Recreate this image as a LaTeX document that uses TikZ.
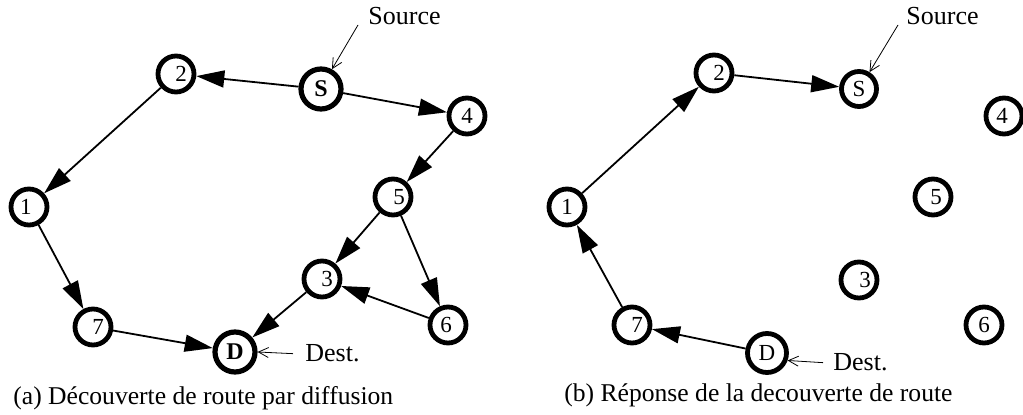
\documentclass[tikz,border=0pt]{standalone}
\usepackage{fontspec}
\setmainfont{Liberation Serif}
\usetikzlibrary{arrows.meta}

\tikzset{
  noeud/.style={draw, circle, line width=2.4pt, minimum size=18pt, inner sep=0pt, font=\fontsize{11.5}{13}\selectfont},
  extreme/.style={minimum size=20pt, line width=2.6pt, font=\fontsize{12}{14}\selectfont\bfseries},
  lien/.style={line width=0.9pt, -{Triangle[length=14pt,width=8.5pt]}},
  renvoi/.style={line width=0.4pt, -{Straight Barb[length=5pt,width=5pt]}},
  legende/.style={font=\fontsize{13}{15}\selectfont, inner sep=0pt},
  titre/.style={font=\fontsize{12.8}{15}\selectfont, inner sep=0pt, anchor=base west},
}

\begin{document}
\begin{tikzpicture}[x=0.5pt, y=-0.5pt]
    \useasboundingbox (0,0) rectangle (1023,415);

    % (a) Diffusion
    \node[noeud, extreme] (aS) at (321,89) {S};
    \node[noeud] (a2) at (176,74) {\kern5pt 2};
    \node[noeud] (a4) at (467,116) {4};
    \node[noeud] (a1) at (29,207) {1\kern3pt};
    \node[noeud] (a5) at (393,197) {\kern6pt 5};
    \node[noeud] (a3) at (322,279) {\kern5pt 3};
    \node[noeud] (a6) at (448,325) {6\kern2pt};
    \node[noeud] (a7) at (93,327) {\kern5pt 7};
    \node[noeud, extreme] (aD) at (235,352) {D};

    \draw[lien] (aS) -- (a2);
    \draw[lien] (aS) -- (a4);
    \draw[lien] (a2) -- (a1);
    \draw[lien] (a4) -- (a5);
    \draw[lien] (a1) -- (a7);
    \draw[lien] (a5) -- (a3);
    \draw[lien] (a5) -- (a6);
    \draw[lien] (a6) -- (a3);
    \draw[lien] (a3) -- (aD);
    \draw[lien] (a7) -- (aD);

    % Labels
    \node[legende, anchor=base west] (asrc) at (368,25) {Source};
    \draw[renvoi] ([xshift=-5pt]asrc.base west) -- (aS.61);
    \node[legende, anchor=base west] (adest) at (305,362) {Dest.};
    \draw[renvoi] ([xshift=-6pt]adest.west) -- (aD.east);
    \node[titre] (capa) at (13,405) {(a) Découverte de route par diffusion};

    % (b) Reponse
    \node[noeud, minimum size=17.5pt] (bS) at (859,89) {S};
    \node[noeud] (b2) at (714,73) {\kern5pt 2};
    \node[noeud] (b4) at (1004,116) {4\kern2pt};
    \node[noeud] (b1) at (567,207) {1};
    \node[noeud] (b5) at (933,197) {\kern3pt 5};
    \node[noeud] (b3) at (859,280) {\kern6pt 3};
    \node[noeud] (b6) at (984,325) {6};
    \node[noeud] (b7) at (632,325) {\kern5pt 7};
    \node[noeud, minimum size=19.5pt] (bD) at (767,353) {D};

    \draw[lien] (b2) -- (bS);
    \draw[lien] (b1) -- (b2);
    \draw[lien] (b7) -- (b1);
    \draw[lien] (bD) -- (b7);

    % Labels
    \node[legende, anchor=base west] (bsrc) at (906,25) {Source};
    \draw[renvoi] ([xshift=-4pt]bsrc.base west) -- (bS.58);
    \node[legende, anchor=base west] (bdest) at (833,371) {Dest.};
    \draw[renvoi] ([xshift=-5pt]bdest.west) -- (bD.-20);
    \node[titre] (capb) at (564,402) {(b) Réponse de la decouverte de route};
\end{tikzpicture}
\end{document}
